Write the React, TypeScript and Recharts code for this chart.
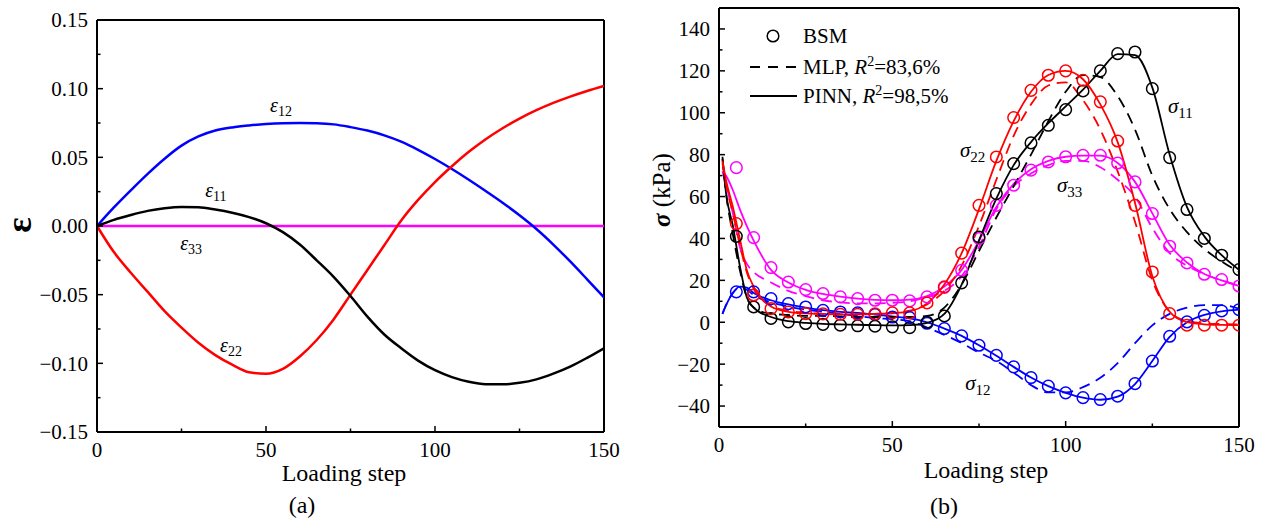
import React from 'react'
import { LineChart, ComposedChart, Line, Scatter, XAxis, YAxis, ReferenceLine, ReferenceDot, Legend } from 'recharts'

const FONT = '"Liberation Serif", "Times New Roman", Times, serif'
const BLACK = '#000000'
const RED = '#ff0000'
const BLUE = '#0000ff'
const MAGENTA = '#ff00ff'

// (a) strain components vs loading step
const strainSteps = [0, 5, 10, 15, 20, 25, 30, 35, 40, 45, 50, 55, 60, 65, 70, 75, 80, 85, 90, 95, 100, 105, 110, 115, 120, 125, 130, 135, 140, 145, 150]
const eps11 = [0, 0.0045, 0.008, 0.011, 0.0129, 0.0138, 0.0136, 0.012, 0.0097, 0.0065, 0.002, -0.0045, -0.0135, -0.025, -0.037, -0.051, -0.066, -0.079, -0.089, -0.098, -0.105, -0.11, -0.1134, -0.1152, -0.1153, -0.1142, -0.1117, -0.1075, -0.1024, -0.096, -0.089]
const eps12 = [0, 0.0135, 0.026, 0.038, 0.049, 0.0585, 0.0652, 0.0695, 0.0718, 0.0732, 0.0742, 0.0748, 0.075, 0.0748, 0.074, 0.072, 0.0695, 0.066, 0.0614, 0.0555, 0.0488, 0.0415, 0.0337, 0.0255, 0.017, 0.0078, -0.0022, -0.0135, -0.0258, -0.0388, -0.052]
const eps22 = [0, -0.019, -0.034, -0.048, -0.062, -0.074, -0.085, -0.094, -0.101, -0.1065, -0.1075, -0.104, -0.095, -0.083, -0.068, -0.05, -0.032, -0.014, 0.004, 0.019, 0.032, 0.0435, 0.054, 0.0632, 0.0712, 0.0782, 0.0843, 0.0896, 0.0942, 0.0983, 0.102]
const eps33 = [0, 0, 0, 0, 0, 0, 0, 0, 0, 0, 0, 0, 0, 0, 0, 0, 0, 0, 0, 0, 0, 0, 0, 0, 0, 0, 0, 0, 0, 0, 0]

// (b) stresses in kPa: BSM reference points and the two fitted models
const bsmSteps = [5, 10, 15, 20, 25, 30, 35, 40, 45, 50, 55, 60, 65, 70, 75, 80, 85, 90, 95, 100, 105, 110, 115, 120, 125, 130, 135, 140, 145, 150]
const bsm11 = [41, 7.3, 1.8, 0.2, -0.6, -1, -1.4, -1.7, -1.9, -2.2, -2.6, 0, 3, 18.8, 40.7, 61.4, 75.7, 85.6, 94, 101.5, 110.4, 120, 128.2, 129, 111.5, 78.6, 53.8, 40, 32, 25.1]
const bsm22 = [47.1, 13, 6.5, 4.9, 4.1, 4, 3.8, 3.8, 4, 4.5, 4.5, 9.2, 16.9, 33, 55.8, 78.9, 97.7, 110.7, 117.9, 120, 115.5, 105.2, 86.5, 55.8, 24, 4.1, -1.4, -1.4, -1.4, -1.4]
const bsm33 = [73.8, 40.4, 26.1, 19.2, 15.6, 13.7, 12.1, 11.3, 10.5, 10.5, 10.2, 12.1, 16.6, 24.8, 40, 55.8, 65.4, 72.6, 76.5, 79, 79.7, 79.7, 76, 67, 51.9, 36.3, 28.3, 22.9, 20.4, 17.3]
const bsm12 = [14.5, 14.5, 11.3, 8.9, 7.3, 5.7, 4.9, 4.5, 3.7, 2.5, 2.2, -0.5, -3, -6.5, -11, -15.8, -21.3, -26.4, -30.5, -33.7, -36, -36.9, -35.3, -29.3, -18.5, -6.7, 0.2, 3.3, 5.4, 6]

const fitSteps = [1, 2, 4, 6, 8, 10, 15, 20, 25, 30, 35, 40, 45, 50, 55, 60, 65, 70, 75, 80, 85, 90, 95, 100, 105, 110, 115, 120, 125, 130, 135, 140, 145, 150]
const pinn11 = [79, 62, 46, 27, 12, 7, 2.5, 0.5, -0.3, -0.8, -1, -1.2, -1.4, -1.5, -1.4, -0.3, 4, 18, 39, 59, 75, 86, 95, 103, 111, 120, 128, 127.5, 112, 80, 55, 41, 32, 25]
const mlp11 = [78, 62, 42, 25, 12, 7, 4, 3.5, 3, 3, 2.8, 2.5, 2.5, 2.5, 2.5, 3, 7, 18, 34, 50, 65, 80, 96, 110, 118, 117, 108, 92, 70, 54, 43, 35, 29, 24]
const pinn22 = [77, 68, 55, 40, 25, 17, 7.5, 5, 4.2, 4, 3.8, 3.8, 4, 4.3, 5.2, 9, 18, 33, 54, 77, 96, 110, 118, 120, 116, 104, 86, 57, 22, 5, 0, -1, -1.3, -1.4]
const mlp22 = [76, 66, 52, 37, 24, 16, 8, 5.5, 4.5, 4, 3.8, 3.8, 4, 4.5, 5.5, 8.5, 15, 27, 46, 68, 89, 104, 113, 114.5, 106, 92, 72, 48, 20, 5, 0.5, -0.5, -0.8, -1]
const pinn33 = [72, 70, 63, 54, 46, 39, 25, 19, 15.5, 13.5, 12.2, 11.3, 10.7, 10.5, 10.8, 12.5, 17, 25, 39, 55, 66, 73, 77, 79, 79.5, 79.5, 76, 67, 52, 37, 28.5, 23, 20, 17.3]
const mlp33 = [72, 66, 52, 36, 28, 24, 19, 15, 12.5, 10.5, 9.5, 9, 9, 9.3, 10, 12, 15, 22, 36, 54, 65, 71, 75, 77, 77, 74, 68, 60, 45, 33, 27, 23, 20, 17.5]
const pinn12 = [4, 8, 14, 17, 16.5, 14, 10.5, 8.5, 7, 5.8, 5, 4.5, 3.7, 2.8, 1.8, 0, -3, -6.5, -11, -16, -21.3, -26.4, -30.5, -33.7, -36, -37, -35.5, -29.5, -18.5, -7, 0, 3.5, 5.2, 6]
const mlp12 = [4, 8, 14, 16.5, 15.5, 13, 9.5, 7.5, 6, 5, 4, 3, 2, 1.5, 0.5, -2.5, -6, -10, -14.5, -18.5, -24, -30, -33.5, -33.5, -31, -26.5, -19.5, -10, -1.5, 4, 7, 8.2, 8.2, 6.5]

const stepTicks = [0, 25, 50, 75, 100, 125, 150]
const strainTicks = [-0.15, -0.125, -0.1, -0.075, -0.05, -0.025, 0, 0.025, 0.05, 0.075, 0.1, 0.125, 0.15]
const stressTicks = [-50, -40, -30, -20, -10, 0, 10, 20, 30, 40, 50, 60, 70, 80, 90, 100, 110, 120, 130, 140, 150]

const strainData = strainSteps.map((x, i) => ({ x, e11: eps11[i], e12: eps12[i], e22: eps22[i], e33: eps33[i] }))
const pts = (steps: number[], vals: number[]) => steps.map((x, i) => ({ x, y: vals[i] }))

const isMajor = (v: number, step: number) => Math.abs(v / step - Math.round(v / step)) < 1e-6
const minus = (s: string) => s.replace('-', '\u2212')

// inward ticks, labels only on the major ones
const makeXTick = (major: number) => (props: any) => {
  const { x, y, payload } = props
  const v = payload.value
  const big = isMajor(v, major)
  return (
    <g>
      <line x1={x} x2={x} y1={y} y2={y - (big ? 6 : 3.5)} stroke="#000" strokeWidth={1.5} />
      {big && (
        <text x={x} y={y + 25} textAnchor="middle" fontFamily={FONT} fontSize={21} fill="#000">
          {v}
        </text>
      )}
    </g>
  )
}

const makeYTick = (major: number, fmt: (v: number) => string) => (props: any) => {
  const { x, y, payload } = props
  const v = payload.value
  const big = isMajor(v, major)
  return (
    <g>
      <line x1={x} x2={x + (big ? 6 : 3.5)} y1={y} y2={y} stroke="#000" strokeWidth={1.5} />
      {big && (
        <text x={x - 9} y={y} dy="0.35em" textAnchor="end" fontFamily={FONT} fontSize={21} fill="#000">
          {fmt(v)}
        </text>
      )}
    </g>
  )
}

const fmtStrain = (v: number) => minus(v.toFixed(2))
const fmtStress = (v: number) => minus(String(v))

const subLabel = (base: string, sub: string, size: number, subSize: number) => (props: any) => {
  const vb = props.viewBox ?? props
  return (
    <text x={vb.x} y={vb.y} fontFamily={FONT} fontSize={size} fill="#000">
      <tspan fontStyle="italic">{base}</tspan>
      <tspan fontSize={subSize} dy={size * 0.22}>{sub}</tspan>
    </text>
  )
}

const ring = (color: string) => (props: any) => (
  <circle cx={props.cx} cy={props.cy} r={5.8} fill="none" stroke={color} strokeWidth={1.5} />
)

const StressLegend = () => (
  <svg width={260} height={100} style={{ display: 'block' }}>
    <circle cx={33} cy={21} r={5.8} fill="none" stroke="#000" strokeWidth={1.5} />
    <text x={63} y={28} fontFamily={FONT} fontSize={21}>BSM</text>
    <line x1={10} x2={57} y1={52} y2={52} stroke="#000" strokeWidth={1.8} strokeDasharray="10 8" />
    <text x={63} y={59} fontFamily={FONT} fontSize={21}>
      MLP, <tspan fontStyle="italic">R</tspan>
      <tspan fontSize={14} dy={-8}>2</tspan>
      <tspan dy={8}>=83,6%</tspan>
    </text>
    <line x1={10} x2={57} y1={81} y2={81} stroke="#000" strokeWidth={1.8} />
    <text x={63} y={88} fontFamily={FONT} fontSize={21}>
      PINN, <tspan fontStyle="italic">R</tspan>
      <tspan fontSize={14} dy={-8}>2</tspan>
      <tspan dy={8}>=98,5%</tspan>
    </text>
  </svg>
)

const axisLine = { stroke: '#000', strokeWidth: 2 }

export default function App() {
  return (
    <div style={{ position: 'absolute', left: 0, top: 0, width: 1267, height: 531, background: '#fff' }}>
      <div style={{ position: 'absolute', left: 0, top: 0 }}>
        <LineChart width={630} height={531} data={strainData} margin={{ top: 20, right: 26, bottom: 69, left: 37 }}>
          <XAxis dataKey="x" type="number" domain={[0, 150]} ticks={stepTicks} interval={0} height={30}
            tickSize={0} tickMargin={0} tickLine={false} axisLine={axisLine} tick={makeXTick(50)} allowDataOverflow />
          <YAxis type="number" domain={[-0.15, 0.15]} ticks={strainTicks} interval={0} width={60}
            tickSize={0} tickMargin={0} tickLine={false} axisLine={axisLine} tick={makeYTick(0.05, fmtStrain)} allowDataOverflow />
          <ReferenceLine y={0.15} stroke="#000" strokeWidth={2} />
          <ReferenceLine x={150} stroke="#000" strokeWidth={2} />
          <Line type="monotone" dataKey="e33" stroke={MAGENTA} strokeWidth={2.5} dot={false} isAnimationActive={false} />
          <Line type="monotone" dataKey="e12" stroke={BLUE} strokeWidth={2.5} dot={false} isAnimationActive={false} />
          <Line type="monotone" dataKey="e22" stroke={RED} strokeWidth={2.5} dot={false} isAnimationActive={false} />
          <Line type="monotone" dataKey="e11" stroke={BLACK} strokeWidth={2.5} dot={false} isAnimationActive={false} />
          <ReferenceDot x={51.2} y={0.083} r={0} fill="none" stroke="none" label={subLabel('ε', '12', 20, 14)} />
          <ReferenceDot x={32} y={0.0211} r={0} fill="none" stroke="none" label={subLabel('ε', '11', 20, 14)} />
          <ReferenceDot x={24.6} y={-0.0175} r={0} fill="none" stroke="none" label={subLabel('ε', '33', 20, 14)} />
          <ReferenceDot x={36.4} y={-0.0917} r={0} fill="none" stroke="none" label={subLabel('ε', '22', 20, 14)} />
        </LineChart>
      </div>

      <div style={{ position: 'absolute', left: 630, top: 0 }}>
        <ComposedChart width={637} height={531} margin={{ top: 8, right: 28, bottom: 74, left: 29 }}>
          <XAxis dataKey="x" type="number" domain={[0, 150]} ticks={stepTicks} interval={0} height={30}
            tickSize={0} tickMargin={0} tickLine={false} axisLine={axisLine} tick={makeXTick(50)} allowDataOverflow />
          <YAxis type="number" domain={[-50, 150]} ticks={stressTicks} interval={0} width={60}
            tickSize={0} tickMargin={0} tickLine={false} axisLine={axisLine} tick={makeYTick(20, fmtStress)} allowDataOverflow />
          <ReferenceLine y={150} stroke="#000" strokeWidth={2} />
          <ReferenceLine x={150} stroke="#000" strokeWidth={2} />
          <Legend layout="vertical" align="center" verticalAlign="middle"
            wrapperStyle={{ left: 110, top: 15 }} content={() => <StressLegend />} />

          <Line data={pts(fitSteps, mlp33)} type="monotone" dataKey="y" stroke={MAGENTA} strokeWidth={1.8} strokeDasharray="11 7" dot={false} isAnimationActive={false} />
          <Line data={pts(fitSteps, pinn33)} type="monotone" dataKey="y" stroke={MAGENTA} strokeWidth={1.8} dot={false} isAnimationActive={false} />
          <Line data={pts(fitSteps, mlp12)} type="monotone" dataKey="y" stroke={BLUE} strokeWidth={1.8} strokeDasharray="11 7" dot={false} isAnimationActive={false} />
          <Line data={pts(fitSteps, pinn12)} type="monotone" dataKey="y" stroke={BLUE} strokeWidth={1.8} dot={false} isAnimationActive={false} />
          <Line data={pts(fitSteps, mlp11)} type="monotone" dataKey="y" stroke={BLACK} strokeWidth={1.8} strokeDasharray="11 7" dot={false} isAnimationActive={false} />
          <Line data={pts(fitSteps, pinn11)} type="monotone" dataKey="y" stroke={BLACK} strokeWidth={1.8} dot={false} isAnimationActive={false} />
          <Line data={pts(fitSteps, mlp22)} type="monotone" dataKey="y" stroke={RED} strokeWidth={1.8} strokeDasharray="11 7" dot={false} isAnimationActive={false} />
          <Line data={pts(fitSteps, pinn22)} type="monotone" dataKey="y" stroke={RED} strokeWidth={1.8} dot={false} isAnimationActive={false} />

          <Scatter data={pts(bsmSteps, bsm33)} dataKey="y" shape={ring(MAGENTA)} isAnimationActive={false} />
          <Scatter data={pts(bsmSteps, bsm12)} dataKey="y" shape={ring(BLUE)} isAnimationActive={false} />
          <Scatter data={pts(bsmSteps, bsm11)} dataKey="y" shape={ring(BLACK)} isAnimationActive={false} />
          <Scatter data={pts(bsmSteps, bsm22)} dataKey="y" shape={ring(RED)} isAnimationActive={false} />

          <ReferenceDot x={129.5} y={99.8} r={0} fill="none" stroke="none" label={subLabel('σ', '11', 21, 15)} />
          <ReferenceDot x={69.5} y={78.8} r={0} fill="none" stroke="none" label={subLabel('σ', '22', 21, 15)} />
          <ReferenceDot x={97.5} y={62} r={0} fill="none" stroke="none" label={subLabel('σ', '33', 21, 15)} />
          <ReferenceDot x={71} y={-32.5} r={0} fill="none" stroke="none" label={subLabel('σ', '12', 21, 15)} />
        </ComposedChart>
      </div>

      {/* axis titles and panel captions */}
      <svg width={1267} height={531} style={{ position: 'absolute', left: 0, top: 0, pointerEvents: 'none' }}>
        <text x={19} y={225} transform="rotate(-90 19 225)" textAnchor="middle" dominantBaseline="central"
          fontFamily={FONT} fontSize={36} fontWeight="bold">ε</text>
        <text x={344} y={481} textAnchor="middle" fontFamily={FONT} fontSize={24}>Loading step</text>
        <text x={302} y={513} textAnchor="middle" fontFamily={FONT} fontSize={24}>(a)</text>
        <text x={661} y={190} transform="rotate(-90 661 190)" textAnchor="middle" dominantBaseline="central"
          fontFamily={FONT} fontSize={25}>
          <tspan fontWeight="bold" fontStyle="italic">σ</tspan> (kPa)
        </text>
        <text x={986} y={478} textAnchor="middle" fontFamily={FONT} fontSize={24}>Loading step</text>
        <text x={944} y={514} textAnchor="middle" fontFamily={FONT} fontSize={24}>(b)</text>
      </svg>
    </div>
  )
}
